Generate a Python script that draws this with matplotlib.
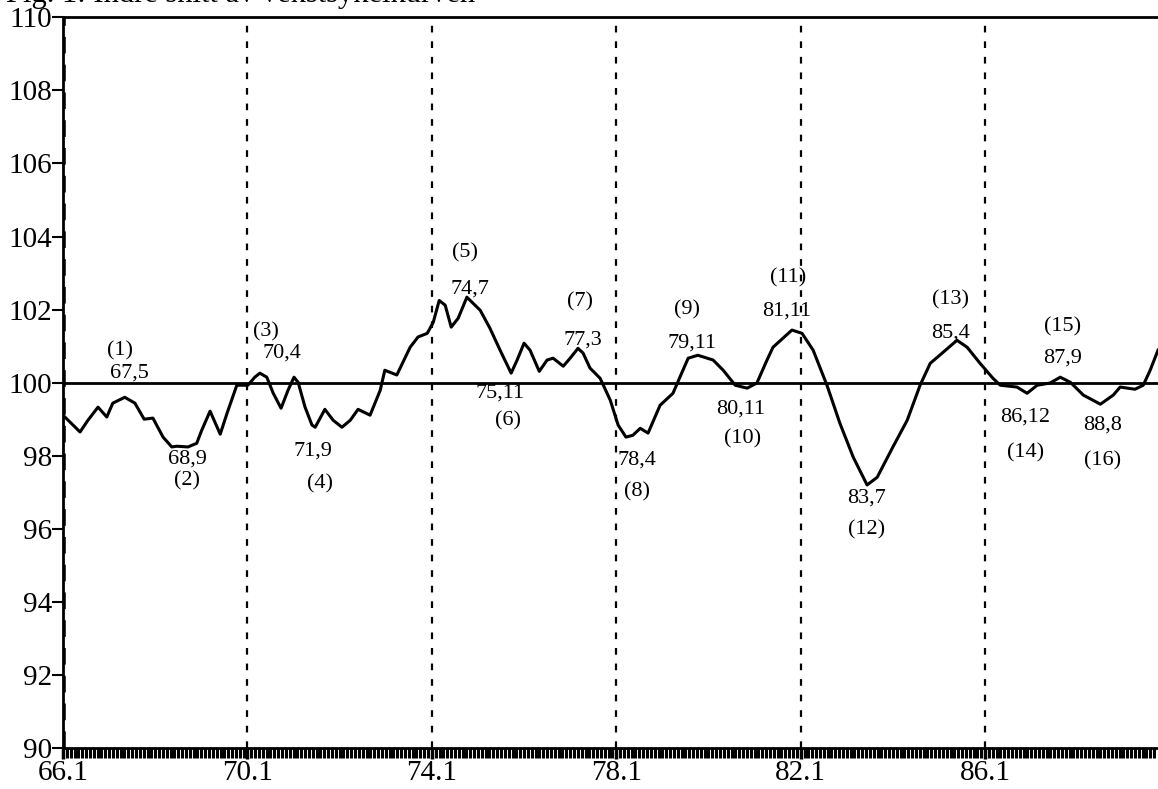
import numpy as np
import matplotlib
matplotlib.use("Agg")
import matplotlib.pyplot as plt

plt.rcParams['font.family'] = ['Liberation Serif', 'DejaVu Serif']

# --- Data (time in decimal years 19xx) ---
cycle_t = [66.04, 66.37, 66.54, 66.76, 66.95, 67.08, 67.34, 67.56, 67.76, 67.95,
           68.17, 68.36, 68.47, 68.71, 68.90, 69.01, 69.19, 69.41, 69.56, 69.77,
           70.01, 70.16, 70.27, 70.42, 70.56, 70.73, 70.88, 71.01, 71.10, 71.25,
           71.40, 71.47, 71.68, 71.86, 72.05, 72.23, 72.40, 72.66, 72.88, 72.98,
           73.24, 73.53, 73.70, 73.90, 74.03, 74.16, 74.29, 74.42, 74.57, 74.76,
           75.05, 75.26, 75.48, 75.72, 75.85, 76.00, 76.13, 76.33, 76.50, 76.63,
           76.85, 77.00, 77.17, 77.28, 77.43, 77.65, 77.87, 78.04, 78.21, 78.36,
           78.52, 78.69, 78.95, 79.23, 79.38, 79.56, 79.77, 80.10, 80.32, 80.58,
           80.84, 81.05, 81.27, 81.40, 81.81, 82.03, 82.27, 82.57, 82.85, 83.14,
           83.44, 83.66, 84.00, 84.31, 84.59, 84.81, 85.07, 85.39, 85.61, 85.89,
           86.17, 86.33, 86.69, 86.91, 87.13, 87.41, 87.63, 87.85, 88.13, 88.50,
           88.78, 88.93, 89.25, 89.43, 89.58, 89.75]
cycle_v = [99.06, 98.65, 98.97, 99.33, 99.06, 99.44, 99.60, 99.44, 99.00, 99.03,
           98.51, 98.24, 98.26, 98.24, 98.34, 98.70, 99.22, 98.59, 99.17, 99.93,
           99.93, 100.15, 100.26, 100.15, 99.71, 99.30, 99.79, 100.15, 100.01, 99.33,
           98.84, 98.78, 99.27, 98.97, 98.78, 98.97, 99.27, 99.11, 99.79, 100.34,
           100.21, 100.97, 101.25, 101.35, 101.65, 102.25, 102.12, 101.52, 101.76, 102.34,
           101.98, 101.49, 100.89, 100.26, 100.62, 101.08, 100.89, 100.31, 100.62, 100.67,
           100.45, 100.67, 100.94, 100.81, 100.40, 100.12, 99.52, 98.84, 98.51, 98.56,
           98.75, 98.62, 99.38, 99.71, 100.15, 100.67, 100.75, 100.62, 100.34, 99.93,
           99.85, 99.99, 100.62, 100.97, 101.44, 101.35, 100.89, 99.93, 98.89, 97.96,
           97.20, 97.41, 98.24, 98.97, 99.93, 100.53, 100.81, 101.16, 100.97, 100.53,
           100.12, 99.93, 99.88, 99.71, 99.93, 99.99, 100.15, 100.01, 99.66, 99.41,
           99.66, 99.88, 99.82, 99.93, 100.34, 100.89]

# turning points: number, date label, where the two text lines sit
turn_no = ["(1)", "(2)", "(3)", "(4)", "(5)", "(6)", "(7)", "(8)",
           "(9)", "(10)", "(11)", "(12)", "(13)", "(14)", "(15)", "(16)"]
turn_date = ["67,5", "68,9", "70,4", "71,9", "74,7", "75,11", "77,3", "78,4",
             "79,11", "80,11", "81,11", "83,7", "85,4", "86,12", "87,9", "88,8"]
no_xy = [(67.24, 100.88), (68.69, 97.32), (70.40, 101.38), (71.57, 97.24),
         (74.72, 103.54), (75.65, 98.95), (77.21, 102.20), (78.45, 97.00),
         (79.53, 102.00), (80.73, 98.46), (81.73, 102.88), (83.42, 95.96),
         (85.24, 102.26), (86.87, 98.08), (87.67, 101.52), (88.54, 97.86)]
date_xy = [(67.45, 100.25), (68.69, 97.90), (70.75, 100.82), (71.42, 98.12),
           (74.83, 102.56), (75.48, 99.72), (77.28, 101.16), (78.45, 97.88),
           (79.64, 101.08), (80.69, 99.28), (81.70, 101.96), (83.42, 96.84),
           (85.24, 101.35), (86.87, 99.06), (87.67, 100.67), (88.54, 98.84)]

year_ticks = [66.0, 70.0, 74.0, 78.0, 82.0, 86.0]
year_labels = ["66.1", "70.1", "74.1", "78.1", "82.1", "86.1"]

# --- Figure ---
fig = plt.figure(figsize=(11.58, 7.89), dpi=100)
ax = fig.add_axes([0.0544, 0.052, 0.9456, 0.926])

ax.plot(cycle_t, cycle_v, color='black', linewidth=2.2)
ax.axhline(100, color='black', linewidth=2.0)

# dashed reference lines at each label year
for t in year_ticks[1:]:
    ax.axvline(t, color='black', linestyle=(0, (3, 4)), linewidth=1.6)
ax.axvline(year_ticks[0], color='black', linestyle=(0, (3, 2)), linewidth=4)

for lab, (x, y) in zip(turn_no, no_xy):
    ax.text(x, y, lab, ha='center', va='center', fontsize=16)
for lab, (x, y) in zip(turn_date, date_xy):
    ax.text(x, y, lab, ha='center', va='center', fontsize=16)

ax.set_xlim(66.0, 89.75)
ax.set_ylim(90, 110)
ax.set_yticks(np.arange(90, 111, 2))
ax.set_xticks(year_ticks)
ax.set_xticklabels(year_labels)
ax.set_xticks(np.arange(66.0, 89.75, 1 / 12), minor=True)
ax.tick_params(axis='y', direction='out', length=8, width=1.5, labelsize=21, pad=0)
ax.tick_params(axis='x', which='major', direction='out', length=8, width=2.5,
               labelsize=21, pad=1)
ax.tick_params(axis='x', which='minor', direction='out', length=7, width=2.2)

ax.spines['right'].set_visible(False)
for side in ['top', 'bottom', 'left']:
    ax.spines[side].set_linewidth(2.0)

# title line, mostly cut off at the top edge in the scan
fig.text(0.005, 0.997, "Fig. 1: Indre snitt av vekstsykelkurven", fontsize=22,
         ha='left', va='baseline')

fig.savefig("out.png", dpi=100)
